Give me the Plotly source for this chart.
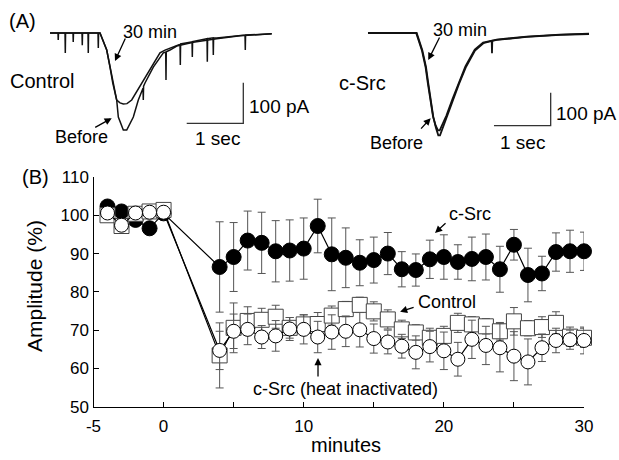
import plotly.graph_objects as go

W, H = 619, 460
FONT = "Liberation Sans, Arial, sans-serif"

# ---------------- Panel B data ----------------
minutes = [-4, -3, -2, -1, 0, 4, 5, 6, 7, 8, 9, 10, 11, 12, 13, 14, 15, 16, 17,
           18, 19, 20, 21, 22, 23, 24, 25, 26, 27, 28, 29, 30]
csrc = [102.3, 101.0, 98.8, 96.6, 100.5, 86.5, 89.1, 93.4, 92.8, 90.6, 90.8, 91.3,
        97.2, 89.8, 88.9, 87.6, 88.3, 90.0, 85.9, 85.7, 88.5, 89.1, 87.8, 88.6,
        89.1, 85.9, 92.3, 84.4, 84.8, 90.4, 90.6, 90.6]
csrc_err = [1.0, 1.0, 1.0, 1.0, 1.0, 11.8, 9.0, 7.7, 8.0, 8.0, 8.0, 8.0, 7.0, 9.5,
            7.8, 6.0, 6.0, 5.5, 4.6, 4.2, 5.0, 5.8, 4.5, 5.7, 6.0, 6.0, 4.0, 7.0,
            4.5, 5.0, 5.5, 5.0]
control = [100.0, 97.2, 100.4, 101.0, 101.4, 63.4, 70.6, 72.4, 72.7, 73.5, 70.6,
           71.5, 71.6, 73.8, 75.5, 76.6, 74.9, 72.8, 70.2, 69.4, 68.0, 68.5, 71.9,
           71.5, 71.0, 69.7, 72.3, 70.5, 70.8, 71.9, 68.3, 68.0]
control_err = [1.0, 1.0, 1.0, 1.0, 1.0, 8.5, 6.5, 3.7, 3.0, 3.0, 2.7, 2.5, 3.0, 2.5,
               2.0, 2.0, 2.5, 2.5, 2.4, 2.0, 2.5, 2.5, 2.5, 2.0, 2.0, 2.3, 3.6, 2.0,
               2.7, 2.9, 2.5, 2.5]
heat = [100.6, 97.4, 100.6, 100.8, 100.8, 64.7, 69.7, 70.2, 68.2, 68.5, 70.3, 70.2,
        68.2, 69.5, 69.7, 70.1, 67.8, 66.9, 65.8, 64.2, 65.7, 64.6, 62.4, 67.6,
        66.0, 65.4, 63.2, 61.7, 65.4, 67.3, 67.5, 67.3]
heat_err = [1.0, 1.0, 1.0, 1.0, 1.0, 5.0, 4.5, 4.0, 3.0, 4.0, 3.0, 3.8, 4.1, 4.5,
            4.0, 4.5, 3.8, 3.1, 3.1, 4.3, 4.0, 4.9, 4.4, 5.0, 5.0, 6.3, 6.4, 6.0,
            3.6, 3.2, 2.5, 3.5]

x_tickvals = [-5, 0, 5, 10, 15, 20, 25, 30]
x_ticktext = ["-5", "0", "", "10", "", "20", "", "30"]
y_tickvals = [50, 60, 70, 80, 90, 100, 110]

# ---------------- Panel A data (time in s, current in pA) ----------------
ctl_30_t = [0, 0.141, 0.145, 0.15, 0.265, 0.27, 0.275, 0.406, 0.41, 0.415, 0.565,
            0.57, 0.575, 0.671, 0.676, 0.681, 0.848, 0.853, 0.858, 0.883, 1.002,
            1.060, 1.108, 1.178, 1.237, 1.295, 1.360, 1.443, 1.620, 1.797, 1.943,
            2.032, 2.239, 2.297, 2.302, 2.307, 2.509, 2.514, 2.519, 2.774, 2.779,
            2.784, 2.880, 2.885, 2.890, 2.945, 3.357, 3.445, 3.450, 3.455, 3.917]
ctl_30_i = [0, 0, -17, 0, 0, -49, 0, 0, -22, 0, 0, -30, 0, 0, -49, 0, 0, -37, 0, 0,
            -42, -84, -123, -165, -172, -175, -174, -165, -123, -84, -49, -42, -30,
            -28, -79, -27, -22, -59, -21, -14, -71, -14, -12, -54, -12, -12, -7, -5,
            -42, -5, -2]
ctl_before_t = [0, 0.883, 1.002, 1.060, 1.108, 1.178, 1.207, 1.295, 1.355, 1.472,
                1.560, 1.643, 1.648, 1.653, 1.678, 1.825, 2.002, 2.044, 2.049, 2.054,
                2.120, 2.239, 2.532, 2.945, 3.357, 3.917]
ctl_before_i = [0, 0, -42, -84, -123, -165, -207, -239, -239, -207, -165, -136, -165,
                -131, -123, -84, -49, -47, -116, -46, -42, -32, -23, -14, -7, -2]
src_before_t = [0, 0.859, 0.958, 1.023, 1.063, 1.106, 1.152, 1.199, 1.240, 1.270,
                1.388, 1.494, 1.605, 1.723, 1.887, 2.034, 2.182, 2.187, 2.192, 2.270,
                2.799, 3.386, 3.898]
src_before_i = [0, 0, -52, -103, -152, -203, -255, -288, -310, -310, -258, -206,
                -154, -105, -53, -31, -24, -61, -24, -21, -12, -6, -3]
src_30_t = [0, 0.850, 0.950, 1.015, 1.055, 1.100, 1.146, 1.193, 1.235, 1.265, 1.383,
            1.490, 1.600, 1.718, 1.883, 2.030, 2.270, 2.799, 3.386, 3.898]
src_30_i = [0, 0, -52, -103, -152, -203, -252, -280, -295, -295, -250, -200, -150,
            -101, -50, -29, -20, -11, -5, -2]

# scale bars: corner (time s, current pA), lengths 1 s and 100 pA
bar_len_t, bar_len_i = 1.0, 100.0
ctl_bar_corner = (3.415, -222.4)
src_bar_corner = (3.222, -280.9)


def px(x):
    return x / W


def py(y):
    return 1 - y / H


fig = go.Figure()

# ---- Panel A traces ----
for tt, ii in [(ctl_before_t, ctl_before_i), (ctl_30_t, ctl_30_i)]:
    fig.add_trace(go.Scatter(x=tt, y=ii, xaxis="x2", yaxis="y2", mode="lines",
                             line=dict(color="#111111", width=1.5), hoverinfo="skip"))
for tt, ii in [(src_before_t, src_before_i), (src_30_t, src_30_i)]:
    fig.add_trace(go.Scatter(x=tt, y=ii, xaxis="x3", yaxis="y3", mode="lines",
                             line=dict(color="#111111", width=1.8), hoverinfo="skip"))

for corner, xa, ya in [(ctl_bar_corner, "x2", "y2"), (src_bar_corner, "x3", "y3")]:
    cx, cy = corner
    fig.add_trace(go.Scatter(x=[cx - bar_len_t, cx, cx], y=[cy, cy, cy + bar_len_i],
                             xaxis=xa, yaxis=ya, mode="lines",
                             line=dict(color="#333333", width=1.3), hoverinfo="skip"))

# ---- Panel B series ----
err_style = dict(type="data", thickness=1, width=4, color="#555555")
fig.add_trace(go.Scatter(
    x=minutes, y=csrc, mode="lines+markers", name="c-Src",
    error_y=dict(array=csrc_err, **err_style),
    line=dict(color="black", width=1.2),
    marker=dict(symbol="circle", size=15, color="black", line=dict(color="black", width=1)),
    cliponaxis=False))
fig.add_trace(go.Scatter(
    x=minutes, y=control, mode="lines+markers", name="Control",
    error_y=dict(array=control_err, **err_style),
    line=dict(color="black", width=1.2),
    marker=dict(symbol="square", size=15, color="white", line=dict(color="#444444", width=1)),
    cliponaxis=False))
fig.add_trace(go.Scatter(
    x=minutes, y=heat, mode="lines+markers", name="c-Src (heat inactivated)",
    error_y=dict(array=heat_err, **err_style),
    line=dict(color="black", width=1.2),
    marker=dict(symbol="circle", size=14, color="white", line=dict(color="black", width=1)),
    cliponaxis=False))

axis_common = dict(showline=True, linecolor="black", linewidth=1.3, ticks="inside",
                   ticklen=5, tickwidth=1.2, tickcolor="black", showgrid=False,
                   zeroline=False, automargin=False,
                   tickfont=dict(family=FONT, size=17, color="black"))
hidden = dict(visible=False, showgrid=False, zeroline=False, fixedrange=True,
              automargin=False)

annotations = []


def txt(s, x, y, size, **kw):
    d = dict(text=s, x=px(x), y=py(y), xref="paper", yref="paper", showarrow=False,
             xanchor="center", yanchor="middle",
             font=dict(family=FONT, size=size, color="black"))
    d.update(kw)
    annotations.append(d)


def arrow(x, y, ax, ay, xref, yref):
    annotations.append(dict(text="", x=x, y=y, xref=xref, yref=yref, ax=ax, ay=ay,
                            showarrow=True, arrowhead=2, arrowsize=1.1,
                            arrowwidth=1.3, arrowcolor="black", standoff=0))


# Panel A labels
txt("(A)", 22.5, 21, 20)
txt("Control", 41.5, 81, 20)
txt("30 min", 149.5, 32, 18)
txt("Before", 81.5, 137, 18)
txt("100 pA", 279, 106, 19)
txt("1 sec", 217.5, 139, 19)
txt("c-Src", 362.5, 83, 20)
txt("30 min", 459.5, 30, 18)
txt("Before", 396.5, 143, 18)
txt("100 pA", 586, 113, 19)
txt("1 sec", 522.5, 142, 19)
arrow(1.148, -69, 11, -24, "x2", "y2")
arrow(1.090, -210, -18, 10, "x2", "y2")
arrow(1.063, -82, 12, -24, "x3", "y3")
arrow(1.106, -258, -11, 12, "x3", "y3")

# Panel B labels
txt("(B)", 35, 177, 20)
txt("Amplitude (%)", 34, 286, 21, textangle=-90)
txt("minutes", 346, 445, 20)
annotations.append(dict(text="c-Src", x=21.9, y=100.3, xref="x", yref="y", showarrow=False,
                        font=dict(family=FONT, size=18, color="black")))
annotations.append(dict(text="Control", x=20.2, y=77.4, xref="x", yref="y", showarrow=False,
                        font=dict(family=FONT, size=18, color="black")))
annotations.append(dict(text="c-Src (heat inactivated)", x=12.95, y=54.6, xref="x", yref="y",
                        showarrow=False, font=dict(family=FONT, size=18, color="black")))
arrow(19.37, 95.4, 12, -11, "x", "y")
arrow(16.88, 74.8, 15, -5, "x", "y")
arrow(11.02, 62.7, 0, 20, "x", "y")

fig.update_layout(
    template="none",
    width=W, height=H, margin=dict(l=0, r=0, t=0, b=0, pad=0, autoexpand=False),
    paper_bgcolor="white", plot_bgcolor="white", showlegend=False,
    font=dict(family=FONT, color="black"),
    xaxis=dict(domain=[px(93.5), px(584)], range=[-5, 30], tickmode="array",
               tickvals=x_tickvals, ticktext=x_ticktext, ticklabelstandoff=4,
               anchor="y", **axis_common),
    yaxis=dict(domain=[py(406.7), py(177)], range=[50, 110], tickmode="array",
               tickvals=y_tickvals, anchor="x", **axis_common),
    xaxis2=dict(domain=[px(40), px(320)], range=[-0.177, 4.770], anchor="y2", **hidden),
    yaxis2=dict(domain=[py(160), py(5)], range=[-312.8, 69.0], anchor="x2", **hidden),
    xaxis3=dict(domain=[px(330), 1.0], range=[-0.670, 4.427], anchor="y3", **hidden),
    yaxis3=dict(domain=[py(160), py(5)], range=[-384.8, 84.8], anchor="x3", **hidden),
    annotations=annotations,
)

fig.write_html(
    "out.html",
    config={"displayModeBar": False},
    post_script="document.body.style.margin='0';document.body.style.overflow='hidden';",
)
